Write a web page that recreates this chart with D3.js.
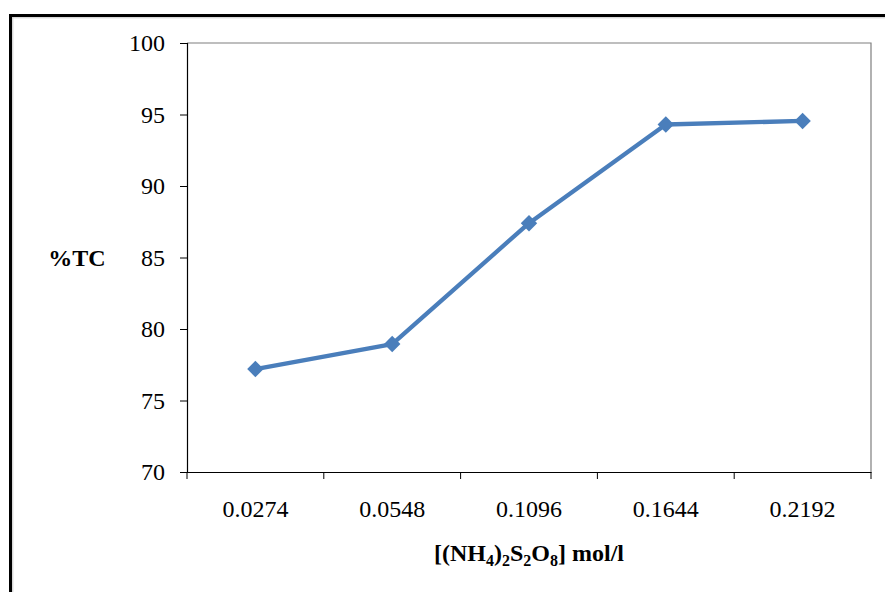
<!DOCTYPE html>
<html>
<head>
<meta charset="utf-8">
<script src="https://cdn.jsdelivr.net/npm/d3@7"></script>
<style>
  body { margin: 0; background: #fff; }
</style>
</head>
<body>
<div id="chart"></div>
<script>
// chart size, same as the window
const WIDTH = 885,
      HEIGHT = 592;
const FONT = "Liberation Serif, DejaVu Serif, serif";

// data
const concentrations = ["0.0274", "0.0548", "0.1096", "0.1644", "0.2192"];
const tcValues = [77.2, 78.95, 87.4, 94.3, 94.55];
const yTicks = [70, 75, 80, 85, 90, 95, 100];

const margin = { top: 43, right: 14, bottom: 120, left: 187 };

let svg = d3.select("#chart")
    .append("svg")
    .attr("width", WIDTH)
    .attr("height", HEIGHT)
    .style("font-family", FONT);

// outer frame (only top and left edges show in the picture)
svg.append("line").attr("x1", 9).attr("x2", WIDTH).attr("y1", 15.5).attr("y2", 15.5)
    .attr("stroke", "#000").attr("stroke-width", 3);
svg.append("line").attr("x1", 9).attr("x2", WIDTH).attr("y1", 17.8).attr("y2", 17.8)
    .attr("stroke", "#c8c8c8").attr("stroke-width", 1);
svg.append("line").attr("x1", 10.5).attr("x2", 10.5).attr("y1", 14).attr("y2", HEIGHT)
    .attr("stroke", "#000").attr("stroke-width", 3);
svg.append("line").attr("x1", 12.8).attr("x2", 12.8).attr("y1", 17).attr("y2", HEIGHT)
    .attr("stroke", "#c8c8c8").attr("stroke-width", 1);

const plotW = WIDTH - margin.left - margin.right,
      plotH = HEIGHT - margin.top - margin.bottom;

const x = d3.scaleBand()
    .domain(concentrations)
    .range([margin.left, margin.left + plotW]);

const y = d3.scaleLinear()
    .domain([70, 100])
    .range([margin.top + plotH, margin.top]);

// plot area border (top + right in grey)
svg.append("path")
    .attr("d", `M${margin.left},${margin.top}H${margin.left + plotW}V${margin.top + plotH}`)
    .attr("fill", "none")
    .attr("stroke", "#7f7f7f")
    .attr("stroke-width", 1.2);

// y axis
const yAxis = svg.append("g")
    .attr("transform", `translate(${margin.left},0)`)
    .call(d3.axisLeft(y).tickValues(yTicks).tickSize(7).tickPadding(15).tickFormat(d3.format("d")));

// x axis, ticks on band edges
const xAxis = svg.append("g")
    .attr("transform", `translate(0,${margin.top + plotH})`)
    .call(d3.axisBottom(x).tickSize(0).tickPadding(28));

xAxis.selectAll(".edge")
    .data(d3.range(concentrations.length + 1))
    .enter()
    .append("line")
    .attr("class", "edge")
    .attr("x1", i => margin.left + i * x.step())
    .attr("x2", i => margin.left + i * x.step())
    .attr("y1", 0)
    .attr("y2", 7)
    .attr("stroke", "#000");

[yAxis, xAxis].forEach(g => {
    g.attr("font-family", null).attr("font-size", 24);
    g.select(".domain").attr("stroke", "#000").attr("stroke-width", 1.2);
    g.selectAll(".tick line").attr("stroke", "#000");
    g.selectAll("text").attr("fill", "#000");
});

// line + diamond markers
const line = d3.line()
    .x((d, i) => x(concentrations[i]) + x.bandwidth() / 2)
    .y(d => y(d));

svg.append("path")
    .datum(tcValues)
    .attr("d", line)
    .attr("fill", "none")
    .attr("stroke", "#4a7ebb")
    .attr("stroke-width", 4.3)
    .attr("stroke-linejoin", "round");

svg.selectAll(".marker")
    .data(tcValues)
    .enter()
    .append("path")
    .attr("class", "marker")
    .attr("d", d3.symbol(d3.symbolSquare, 135))
    .attr("transform", (d, i) => `translate(${x(concentrations[i]) + x.bandwidth() / 2},${y(d)}) rotate(45)`)
    .attr("fill", "#4a7ebb");

// axis titles
svg.append("text")
    .attr("x", 77)
    .attr("y", 266)
    .attr("text-anchor", "middle")
    .attr("font-size", 24)
    .attr("font-weight", "bold")
    .text("%TC");

const xTitle = svg.append("text")
    .attr("x", margin.left + plotW / 2)
    .attr("y", 561)
    .attr("text-anchor", "middle")
    .attr("font-size", 24)
    .attr("font-weight", "bold");

// [(NH4)2S2O8] mol/l with subscripts
const parts = [["[(NH", false], ["4", true], [")", false], ["2", true], ["S", false],
               ["2", true], ["O", false], ["8", true], ["] mol/l", false]];
let shift = 0;
parts.forEach(([t, sub]) => {
    const target = sub ? 5 : 0;
    xTitle.append("tspan")
        .attr("dy", target - shift)
        .attr("font-size", sub ? 16 : 24)
        .text(t);
    shift = target;
});
</script>
</body>
</html>
